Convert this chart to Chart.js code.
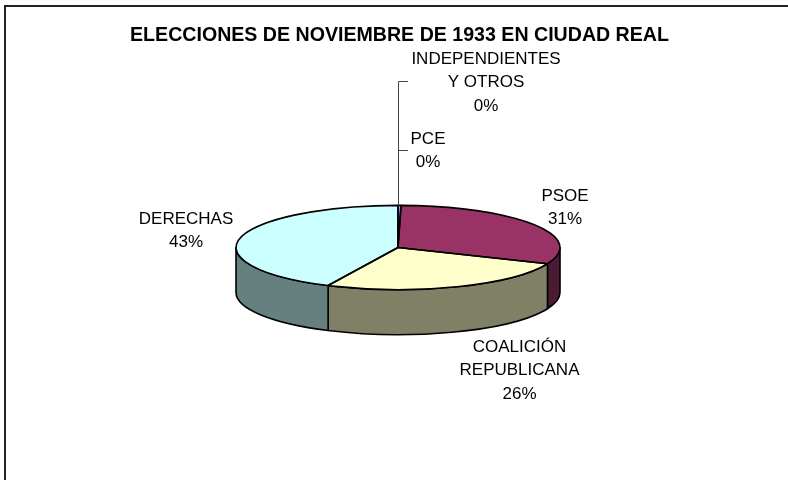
<!DOCTYPE html>
<html>
<head>
<meta charset="utf-8">
<style>html,body{margin:0;padding:0;background:#fff}#wrap{width:788px;height:480px;position:relative}</style>
<script src="https://cdn.jsdelivr.net/npm/chart.js@4"></script>
</head>
<body>
<div id="wrap"><canvas id="c"></canvas></div>
<script>
const titleText = 'ELECCIONES DE NOVIEMBRE DE 1933 EN CIUDAD REAL';
const categories = ['PCE', 'PSOE', 'COALICIÓN REPUBLICANA', 'DERECHAS', 'INDEPENDIENTES Y OTROS'];
const values = [0.3, 31, 25.8, 42.9, 0];
const topColors = ['#9999ff', '#993366', '#ffffcc', '#ccffff', '#660066'];
const wallColors = ['#4d4d80', '#4d1a33', '#808066', '#668080', '#330033'];

const TILT = 42 / 161.5;
const DEPTH = 45;
const labelSpots = [
  {lines: ['PCE'], x: 428, y: 139.5},
  {lines: ['PSOE'], x: 565, y: 196.5},
  {lines: ['COALICIÓN', 'REPUBLICANA'], x: 519.5, y: 347.5},
  {lines: ['DERECHAS'], x: 186, y: 219},
  {lines: ['INDEPENDIENTES', 'Y OTROS'], x: 486, y: 59.5}
];

function tiltAround(ctx, cx, cy) {
  ctx.translate(cx, cy);
  ctx.scale(1, TILT);
  ctx.translate(-cx, -cy);
}
const pie3d = {
  id: 'pie3d',
  beforeDraw(chart) {
    const ctx = chart.ctx;
    ctx.save();
    ctx.strokeStyle = '#222';
    ctx.lineWidth = 2;
    ctx.beginPath();
    ctx.moveTo(5, 480);
    ctx.lineTo(5, 6);
    ctx.lineTo(788, 6);
    ctx.stroke();
    ctx.font = 'bold 19.6px "Liberation Sans", Arial, sans-serif';
    ctx.fillStyle = '#000';
    ctx.textAlign = 'center';
    ctx.textBaseline = 'middle';
    ctx.fillText(titleText, 399.5, 36);
    ctx.restore();
  },
  beforeDatasetsDraw(chart) {
    const ctx = chart.ctx;
    const arcs = chart.getDatasetMeta(0).data;
    const {x: cx, y: cy} = arcs[0];
    const r = arcs[0].outerRadius;
    const ry = r * TILT;
    arcs.forEach((a, i) => {
      const s = Math.max(a.startAngle, 0);
      const e = Math.min(a.endAngle, Math.PI);
      if (e <= s) return;
      ctx.save();
      ctx.beginPath();
      ctx.ellipse(cx, cy, r, ry, 0, s, e);
      ctx.ellipse(cx, cy + DEPTH, r, ry, 0, e, s, true);
      ctx.closePath();
      ctx.fillStyle = wallColors[i];
      ctx.fill();
      ctx.strokeStyle = '#000';
      ctx.lineWidth = 1.6;
      ctx.lineJoin = 'round';
      ctx.stroke();
      ctx.restore();
    });
    ctx.save();
    tiltAround(ctx, cx, cy);
  },
  afterDatasetsDraw(chart) {
    const ctx = chart.ctx;
    ctx.restore();
    const arcs = chart.getDatasetMeta(0).data;
    arcs.forEach((a) => {
      if (a.endAngle - a.startAngle <= 0) return;
      ctx.save();
      ctx.beginPath();
      const ry = a.outerRadius * TILT;
      ctx.moveTo(a.x, a.y);
      ctx.ellipse(a.x, a.y, a.outerRadius, ry, 0, a.startAngle, a.endAngle);
      ctx.closePath();
      ctx.strokeStyle = '#000';
      ctx.lineWidth = 1.6;
      ctx.lineJoin = 'round';
      ctx.stroke();
      ctx.restore();
    });
    const cx = arcs[0].x;
    const topY = arcs[0].y - arcs[0].outerRadius * TILT;
    ctx.save();
    ctx.lineWidth = 1;
    ctx.strokeStyle = '#444';
    ctx.beginPath();
    ctx.moveTo(408, 81.5); ctx.lineTo(Math.round(cx) + 0.5, 81.5); ctx.lineTo(Math.round(cx) + 0.5, topY);
    ctx.stroke();
    ctx.beginPath();
    ctx.moveTo(408, 150.5); ctx.lineTo(Math.round(cx) + 0.5, 150.5); ctx.lineTo(Math.round(cx) + 0.5, topY);
    ctx.stroke();
    ctx.restore();
    ctx.save();
    ctx.font = '17px "Liberation Sans", Arial, sans-serif';
    ctx.fillStyle = '#000';
    ctx.textAlign = 'center';
    ctx.textBaseline = 'middle';
    const total = values.reduce((p, v) => p + v, 0);
    labelSpots.forEach((spot, i) => {
      const rows = spot.lines.concat([Math.round(values[i] / total * 100) + '%']);
      rows.forEach((t, k) => ctx.fillText(t, spot.x, spot.y + k * 23.3));
    });
    ctx.restore();
  }
};

new Chart(document.getElementById('c'), {
  type: 'pie',
  data: {
    labels: categories,
    datasets: [{
      data: values,
      backgroundColor: topColors,
      borderWidth: 0,
      clip: false
    }]
  },
  options: {
    responsive: true,
    maintainAspectRatio: false,
    animation: false,
    layout: {padding: {left: 10, right: 2, top: 85.5, bottom: 70.5}},
    plugins: {
      legend: {display: false},
      tooltip: {enabled: false},
      title: {display: false}
    }
  },
  plugins: [pie3d]
});
</script>
</body>
</html>
